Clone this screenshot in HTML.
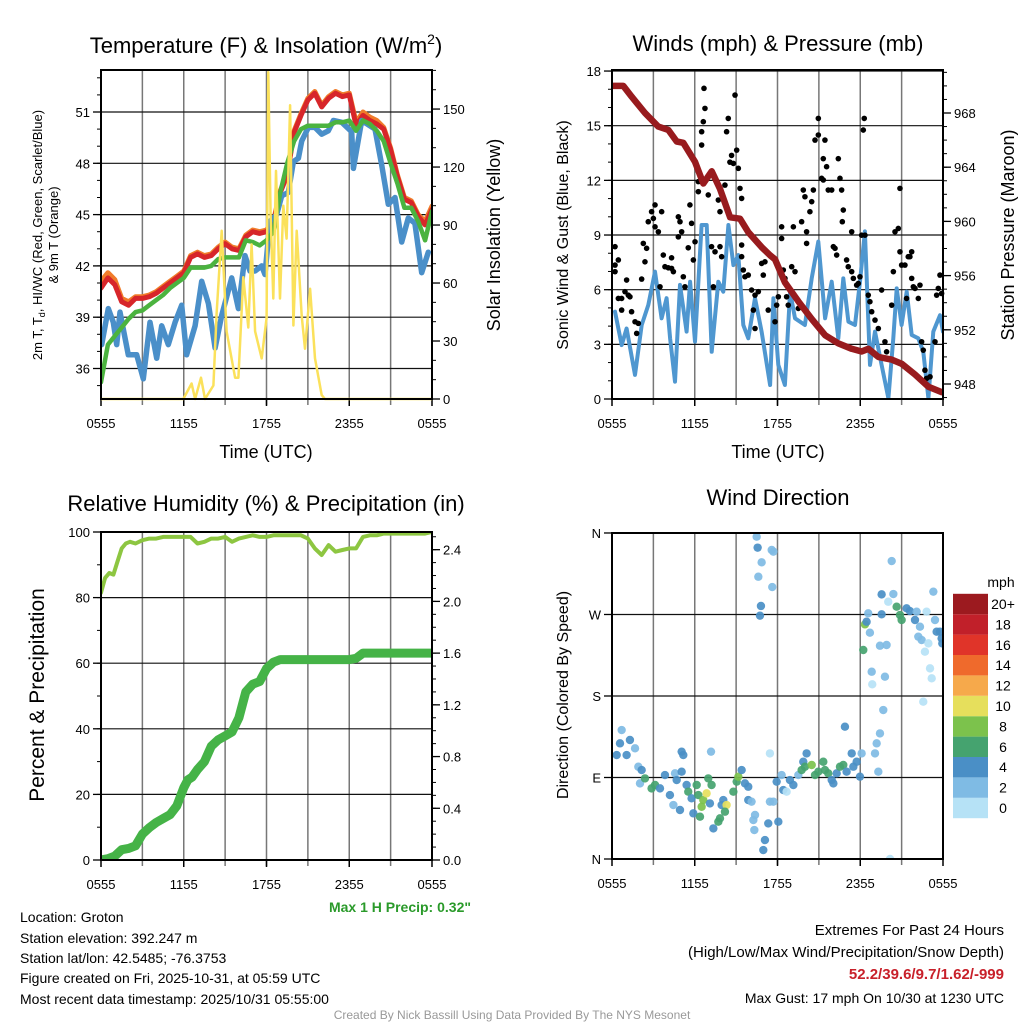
<!DOCTYPE html>
<html><head><meta charset="utf-8"><style>
html,body{margin:0;padding:0;background:#fff;}
svg{display:block;font-family:"Liberation Sans",Arial,sans-serif;}
</style></head><body>
<svg id="chart" width="1024" height="1024" viewBox="0 0 1024 1024" xmlns="http://www.w3.org/2000/svg">
<rect width="1024" height="1024" fill="#fff"/>
<g id="layer"></g>
<text x="266" y="53" font-size="22" text-anchor="middle">Temperature (F) &amp; Insolation (W/m<tspan font-size="14" dy="-9">2</tspan><tspan dy="9">)</tspan></text>
<text x="778" y="51" font-size="22" text-anchor="middle">Winds (mph) &amp; Pressure (mb)</text>
<text x="266" y="511" font-size="22" text-anchor="middle">Relative Humidity (%) &amp; Precipitation (in)</text>
<text x="778" y="505" font-size="22" text-anchor="middle">Wind Direction</text>
<text x="266" y="458" font-size="18" text-anchor="middle">Time (UTC)</text>
<text x="778" y="458" font-size="18" text-anchor="middle">Time (UTC)</text>
<text transform="translate(42,235) rotate(-90)" font-size="13" text-anchor="middle">2m T, T<tspan font-size="9" dy="3">d</tspan><tspan dy="-3">, HI/WC (Red, Green, Scarlet/Blue)</tspan></text>
<text transform="translate(58,235) rotate(-90)" font-size="13" text-anchor="middle">&amp; 9m T (Orange)</text>
<text transform="translate(500,235) rotate(-90)" font-size="18" text-anchor="middle">Solar Insolation (Yellow)</text>
<text transform="translate(568,235) rotate(-90)" font-size="16" text-anchor="middle">Sonic Wind &amp; Gust (Blue, Black)</text>
<text transform="translate(1014,235) rotate(-90)" font-size="18" text-anchor="middle">Station Pressure (Maroon)</text>
<text transform="translate(44,695) rotate(-90)" font-size="21" text-anchor="middle">Percent &amp; Precipitation</text>
<text transform="translate(568,695) rotate(-90)" font-size="16" text-anchor="middle">Direction (Colored By Speed)</text>
<text x="471" y="912" font-size="14" font-weight="bold" fill="#2a9a2a" text-anchor="end">Max 1 H Precip: 0.32"</text>
<g font-size="14">
<text x="20" y="922">Location: Groton</text>
<text x="20" y="943">Station elevation: 392.247 m</text>
<text x="20" y="963">Station lat/lon: 42.5485; -76.3753</text>
<text x="20" y="983">Figure created on Fri, 2025-10-31, at 05:59 UTC</text>
<text x="20" y="1004">Most recent data timestamp: 2025/10/31 05:55:00</text>
</g>
<g font-size="15" text-anchor="end">
<text x="1004" y="935">Extremes For Past 24 Hours</text>
<text x="1004" y="957">(High/Low/Max Wind/Precipitation/Snow Depth)</text>
<text x="1004" y="979" font-weight="bold" fill="#c8202a">52.2/39.6/9.7/1.62/-999</text>
<text x="1004" y="1003" font-size="14">Max Gust: 17 mph On 10/30 at 1230 UTC</text>
</g>
<text x="512" y="1019" font-size="12" fill="#999" text-anchor="middle">Created By Nick Bassill Using Data Provided By The NYS Mesonet</text>
<text x="1001" y="587" font-size="14" text-anchor="middle">mph</text>
</svg>
<script>
// ---- Temperature panel data (hours since 0555 UTC) ----
const tH = [0,0.5,1,1.5,2,2.5,3,3.5,4,4.5,5,5.5,6,6.5,7,7.5,8,8.5,9,9.5,10,10.5,11,11.5,12,12.5,13,13.5,14,14.5,15,15.5,16,16.5,17,17.5,18,18.5,19,19.5,20,20.5,21,21.5,22,22.5,23,23.5,24];
const tempRed = [40.7,41.3,40.9,39.9,39.7,40.1,40.1,40.2,40.4,40.7,41.0,41.3,41.6,42.5,42.7,42.5,42.6,43.0,43.3,43.0,42.9,43.7,44.0,43.9,44.0,44.5,46.3,47.3,49.8,50.8,51.7,52.1,51.3,51.8,52.1,51.9,52.0,50.2,50.8,50.5,50.3,50.0,48.8,47.2,45.9,45.7,44.9,44.4,45.3];
const tempOrange = [41.1,41.6,41.2,40.1,39.9,40.2,40.2,40.3,40.5,40.8,41.1,41.4,41.7,42.6,42.8,42.6,42.7,43.1,43.4,43.1,43.0,43.8,44.1,44.0,44.1,44.6,46.4,47.4,49.9,50.9,51.8,52.2,51.4,51.9,52.2,52.0,52.1,50.4,51.0,50.7,50.5,50.1,48.9,47.3,46.0,45.8,45.0,44.6,45.5];
const tempGreen = [35.2,37.4,37.9,38.4,38.9,39.3,39.4,39.7,40.0,40.3,40.7,41.0,41.3,41.9,41.9,41.9,42.0,42.4,42.5,42.5,42.5,43.5,43.4,43.2,43.5,44.0,46.3,48.0,49.3,50.0,50.2,50.2,50.2,50.2,50.4,50.4,50.5,49.9,50.5,50.3,49.9,49.3,48.0,46.8,45.4,45.4,44.6,43.5,45.2];
const dewH = [0.05,0.53,0.89,1.14,1.38,1.98,2.59,3.07,3.55,4.04,4.4,4.88,5.37,5.85,6.21,6.82,7.3,7.79,8.27,8.75,9.48,9.96,10.44,10.8,11.17,11.65,11.89,12.25,12.74,13.1,13.58,13.95,14.31,14.55,15.04,15.52,16.0,16.48,16.85,17.45,18.18,18.3,18.9,19.87,20.35,20.83,21.32,21.8,22.28,22.76,23.25,23.73];
const dewBlue = [37.4,39.5,38.7,37.4,39.3,36.8,36.8,35.4,38.7,36.6,38.5,37.4,38.7,39.7,36.8,38.5,41.1,39.8,37.2,39.1,41.3,39.5,42.6,41.7,41.7,42.0,41.5,44.6,45.0,46.1,46.3,48.1,48.3,49.3,50.1,50.1,49.7,49.9,50.5,50.4,49.85,47.7,50.5,50.0,47.9,45.6,46.0,43.4,44.8,44.5,41.6,42.8];
const solarH = [0,5.97,6.57,6.82,7.25,7.54,8.15,8.39,8.75,9.11,9.72,9.96,10.32,10.68,10.92,11.17,11.65,12.01,12.13,12.3,12.49,12.69,12.98,13.22,13.46,13.71,13.95,14.19,14.55,14.79,15.16,15.52,16.0,16.24,24];
const solarVal = [0,0,8,0,11,0,7,45,87,35,11,11,63,37,80,35,21,42,169,95,52,118,52,100,83,152,38,87,43,26,57,21,2,0,0];
const tempTicks = [36,39,42,45,48,51];
const solarTicks = [0,30,60,90,120,150];
const timeTickH = [0,6,12,18,24];
const timeTickLabels = ["0555","1155","1755","2355","0555"];
// ---- Wind panel data ----
const windH = [0.22,0.70,1.06,1.67,2.15,2.63,3.12,3.60,3.96,4.21,4.57,4.93,5.41,5.66,6.02,6.50,6.87,7.23,7.71,8.07,8.44,8.8,9.16,9.52,9.88,10.37,10.85,11.46,11.7,12.06,12.54,12.91,13.27,13.99,14.48,14.96,15.45,15.93,16.41,16.77,17.14,17.62,17.98,18.34,18.71,19.07,19.55,20.04,20.4,20.64,21.0,21.37,21.73,22.21,22.57,22.94,23.3,23.78,24.0];
const windSpd = [4.79,2.96,3.87,1.32,4.06,5.16,6.99,4.43,5.53,3.33,0.95,6.26,3.70,6.44,3.15,9.55,9.55,2.59,6.44,5.89,9.55,7.35,7.9,4.06,3.33,5.53,3.70,0.77,5.53,1.87,0.77,5.89,4.43,4.06,6.62,8.64,4.43,6.44,3.33,6.62,4.24,4.06,6.44,9.2,1.87,3.70,1.87,0.04,3.33,6.07,4.06,5.89,3.51,3.33,2.59,0.04,3.70,4.6,3.70];
const gustH = [0.22,0.22,0.46,0.22,0.46,0.70,1.06,0.94,1.18,1.30,0.70,1.42,1.67,1.91,1.79,2.15,2.39,2.51,2.27,2.63,2.87,3.12,3.0,3.12,3.36,3.6,3.48,3.72,3.84,4.08,4.32,4.32,4.45,4.81,4.93,4.81,5.05,5.17,5.29,5.53,5.65,5.77,6.02,5.9,6.26,6.26,6.5,6.5,6.62,6.74,6.67,6.98,7.22,7.47,7.35,7.71,7.83,7.83,7.95,8.19,8.31,8.43,8.55,8.67,8.8,8.92,9.04,9.16,9.28,9.4,9.4,9.4,9.52,9.64,9.88,10.12,10.37,10.25,10.37,10.61,10.85,11.09,10.97,11.33,11.82,11.94,12.06,12.3,12.3,12.42,12.54,12.66,12.78,13.03,13.15,13.27,13.51,13.75,13.87,13.99,14.11,14.11,14.35,14.48,14.6,14.72,14.96,14.96,15.2,15.32,15.32,15.44,15.56,15.68,15.93,16.05,16.17,16.29,16.41,16.53,16.65,16.77,16.7,17.01,17.13,17.38,17.38,17.5,17.74,17.86,17.98,18.1,18.34,18.29,18.22,18.58,18.7,18.83,19.07,19.31,19.55,19.79,19.91,20.28,20.4,20.52,20.76,20.88,20.88,21.0,21.24,21.36,21.48,21.6,21.73,21.73,21.85,21.97,22.21,22.33,22.45,22.57,22.69,22.81,23.06,23.42,23.54,23.66,23.78,23.9];
const gustV = [8.36,7.35,7.63,6.99,5.52,5.52,6.53,5.89,5.70,5.61,4.88,4.79,4.24,4.15,3.6,6.58,7.53,8.27,8.54,9.73,10.28,10.65,9.91,9.45,9.18,10.28,6.16,7.9,7.26,7.2,7.17,7.75,6.99,10.0,9.73,8.9,9.18,6.71,6.16,8.3,10.65,9.64,8.63,7.63,11.93,11.38,14.67,13.94,15.22,15.95,17.05,11.2,8.36,8.08,6.16,10.92,10.28,8.36,7.81,11.74,14.67,15.4,13.0,13.37,12.93,16.68,13.66,12.66,11.56,11.01,8.45,7.81,7.08,6.71,6.8,5.98,5.70,4.88,3.87,5.89,7.44,7.53,6.8,4.88,4.24,5.15,5.61,8.81,9.45,7.08,6.62,5.61,5.15,7.26,9.45,6.99,4.97,9.73,11.47,11.1,9.18,8.54,10.28,10.83,11.47,14.21,14.49,15.4,12.11,12.02,13.19,14.21,12.75,11.47,11.47,8.36,8.27,7.9,13.19,12.11,11.47,10.37,9.73,7.63,7.26,9.18,6.99,6.62,6.25,6.34,6.71,8.99,8.99,15.4,14.76,5.70,5.34,4.79,4.33,3.87,5.98,3.14,2.59,5.15,6.99,9.18,9.36,11.56,8.08,7.35,7.35,5.52,7.81,7.81,8.08,6.62,6.16,6.07,5.52,6.25,3.14,2.68,1.58,1.13,1.22,3.14,5.70,6.07,6.8,5.79];
const presH = [0.1,0.82,1.43,2.39,3.36,4.08,4.69,5.17,6.02,6.62,7.23,7.83,8.56,9.28,9.88,10.85,11.46,11.82,12.54,13.51,14.48,15.45,16.41,17.38,18.1,18.59,19.31,20.28,21.0,21.97,22.94,23.9];
const presVal = [970.0,970.0,969.2,968.0,967.0,966.75,965.9,965.8,964.4,962.8,963.7,962.4,960.3,960.2,959.2,958.1,957.5,957.2,955.5,954.1,952.8,951.6,951.0,950.6,950.4,950.6,950.0,949.8,949.5,948.7,947.8,947.4];
const windTicks = [0,3,6,9,12,15,18];
const presTicks = [948,952,956,960,964,968];
// ---- RH panel data ----
const rhH = [0,0.3,0.6,0.9,1.2,1.5,1.8,2.1,2.5,3,3.5,4,4.5,5,5.5,6,6.5,7,7.5,8,8.5,9,9.5,10,10.5,11,11.5,12,12.5,13,13.5,14,14.5,15,15.5,16,16.5,17,17.5,18,18.5,19,19.5,20,20.5,21,21.5,22,22.5,23,23.5,24];
const rhVal = [81.5,86,87.5,87,91,95,96.5,97,96.5,97.5,98,98,98.5,98.5,98.5,98.5,98.5,96.5,97,98,98,98.5,97,98,98.5,99,98.5,98.5,99,99,99,99,99,98,95,93,96,94,94.5,95,95,98.5,99,99,99.5,99.5,99.5,99.5,99.5,99.5,99.5,100];
const prH = [0,0.5,1,1.5,2,2.5,3,3.5,4,4.5,5,5.5,6,6.3,6.6,7,7.5,8,8.5,9,9.5,10,10.5,11,11.5,12,12.5,13,13.5,14,15,16,17,18,18.5,19,20,21,22,23,24];
const prVal = [0,0.01,0.03,0.08,0.09,0.11,0.2,0.25,0.29,0.32,0.35,0.42,0.56,0.62,0.64,0.7,0.76,0.88,0.93,0.96,0.99,1.1,1.3,1.36,1.38,1.48,1.53,1.55,1.55,1.55,1.55,1.55,1.55,1.55,1.56,1.6,1.6,1.6,1.6,1.6,1.6];
const rhTicks = [0,20,40,60,80,100];
const prTicks = [0.0,0.4,0.8,1.2,1.6,2.0,2.4];
// ---- Wind direction panel data ----
const dirH = [0.70,0.58,0.34,1.30,1.67,1.06,1.91,2.15,2.03,2.39,2.87,3.12,3.48,3.84,4.20,4.57,4.69,5.05,5.05,5.17,4.45,4.93,5.41,5.53,5.77,5.9,6.14,6.26,6.50,6.62,6.86,6.38,7.10,6.98,7.22,7.18,7.35,7.71,7.83,7.95,8.07,8.31,8.19,8.80,9.04,9.16,9.4,9.64,9.88,9.88,10.12,10.37,10.25,10.32,11.09,10.97,11.33,11.45,11.70,11.45,11.94,12.06,12.42,12.3,12.66,12.9,13.15,13.51,13.75,13.87,14.11,13.99,14.48,14.72,14.96,15.32,15.44,15.68,15.93,16.05,16.29,16.53,16.77,17.01,17.38,17.74,17.5,17.98,18.1,16.89,19.19,19.07,19.31,19.43,19.67,19.79,18.83,18.87,18.22,18.34,18.46,18.58,18.7,19.55,19.55,19.43,19.91,20.03,20.4,20.64,20.88,21.0,20.28,21.36,21.6,21.97,22.09,22.33,22.21,22.45,22.81,22.94,22.69,23.06,23.18,23.3,23.42,23.54,23.78,23.9,23.95,22.57,20.16,10.49,10.56,11.58,11.70,10.85,10.61,11.62,10.8,10.73];
const dirDeg = [142.4,127.7,114.8,131.4,122.2,114.8,101.9,98.2,83.5,89.0,78.0,81.7,78.0,92.7,70.6,94.6,87.2,96.4,118.5,114.8,59.6,54.1,81.7,74.3,67.0,50.4,81.7,70.6,57.7,65.1,72.5,46.7,61.4,89.0,81.7,118.5,33.8,41.2,44.9,59.6,65.1,59.6,52.2,74.3,85.4,90.9,98.2,83.5,79.8,65.1,63.3,48.6,43.0,32.0,20.9,9.9,39.3,63.3,63.3,116.6,85.4,41.2,76.1,92.7,74.3,87.2,81.7,92.7,98.2,107.4,116.6,101.9,103.8,92.7,96.4,107.4,98.2,94.6,87.2,83.5,94.6,101.9,103.8,96.4,116.6,107.4,101.9,90.9,116.6,146.1,127.7,116.6,96.4,138.7,164.5,201.3,206.8,192.9,230.8,259.1,262.0,271.3,249.9,270.2,292.2,235.5,236.3,284.1,292.6,278.6,269.4,263.9,329.0,276.8,273.8,263.9,273.1,256.5,245.5,241.8,273.1,238.1,228.9,210.5,199.5,295.2,263.9,251.0,251.0,243.6,238.1,173.7,0,355.9,343.8,341.2,339.4,327.6,311.7,300.3,279.4,268.7];
const dirSpd = [3,5,5,5,3,5,3,5,3,7,7,7,5,5,5,3,5,5,5,5,3,5,5,7,5,5,7,7,9,9,11,7,5,7,7,3,5,7,7,5,5,11,7,7,7,9,5,5,5,5,3,3,3,3,5,5,5,3,3,1,5,5,5,3,1,5,5,3,7,5,5,7,9,7,7,7,7,7,5,5,5,7,7,5,5,5,5,5,3,5,3,3,3,2,3,2,3,1,7,9,5,3,3,5,5,3,3,1,3,7,7,7,3,5,5,5,3,3,3,3,1,1,1,1,1,3,3,5,5,5,5,1,1,3,5,3,3,3,3,3,5,5];
const speedBins = ["0","2","4","6","8","10","12","14","16","18","20+"];
const speedColors = ["#b6e2f6","#7fbbe4","#4a8fc6","#45a36f","#7cc24c","#e6df5c","#f6a94b","#ef6a2c","#e03429","#c1202a","#9c1a1f"];

const NS = "http://www.w3.org/2000/svg";
const layer = document.getElementById("layer");
function el(tag, attrs, parent) {
  const e = document.createElementNS(NS, tag);
  for (const k in attrs) e.setAttribute(k, attrs[k]);
  (parent || layer).appendChild(e);
  return e;
}
function makePanel(x0, x1, y0, y1, name) {
  const g = el("g", {});
  
  
  const xT = h => x0 + h * (x1 - x0) / 24;
  return { g, x0, x1, y0, y1, xT };
}
function clipFor(p, id, extra) {
  const e = extra || 0;
  const cp = el("clipPath", { id: id });
  el("rect", { x: p.x0, y: p.y0, width: p.x1 - p.x0, height: p.y1 - p.y0 + e }, cp);
}
function vGrid(p) {
  for (let h = 3; h < 24; h += 3) {
    const gl = el("line", { x1: p.xT(h), x2: p.xT(h), y1: p.y0, y2: p.y1 + 6, stroke: "#777", "stroke-width": 1.5 }, p.g);
    
    
  }
  timeTickH.forEach((h, i) => {
    el("line", { x1: p.xT(h), x2: p.xT(h), y1: p.y1, y2: p.y1 + 7, stroke: "#000", "stroke-width": 1.5 }, p.g);
    const t = el("text", { x: p.xT(h), y: p.y1 + 29, "font-size": 13, "text-anchor": "middle" }, p.g);
    t.textContent = timeTickLabels[i];
    
    
  });
}
function hAxis(p, ticks, yf, side, grid, fmt, minorStep, minorFrom, minorTo) {
  const xa = side === "left" ? p.x0 : p.x1;
  const dir = side === "left" ? -1 : 1;
  if (minorStep) {
    for (let v = minorFrom; v <= minorTo + 1e-9; v += minorStep) {
      const y = yf(v);
      if (y < p.y0 - 0.5 || y > p.y1 + 0.5) continue;
      el("line", { x1: xa, x2: xa + dir * 4, y1: y, y2: y, stroke: "#000", "stroke-width": 1 }, p.g);
    }
  }
  ticks.forEach(v => {
    const y = yf(v);
    if (grid) {
      const gl = el("line", { x1: p.x0, x2: p.x1, y1: y, y2: y, stroke: "#111", "stroke-width": 1.2 }, p.g);
      
      
    }
    el("line", { x1: xa, x2: xa + dir * 8, y1: y, y2: y, stroke: "#000", "stroke-width": 1.3 }, p.g);
    const t = el("text", { x: xa + dir * 11, y: y + 5, "font-size": 13, "text-anchor": side === "left" ? "end" : "start" }, p.g);
    t.textContent = fmt ? fmt(v) : String(v);
    
    
  });
}
function frame(p) {
  const f = el("rect", { x: p.x0, y: p.y0, width: p.x1 - p.x0, height: p.y1 - p.y0, fill: "none", stroke: "#000", "stroke-width": 2 }, p.g);
  
  
}
function line(p, xs, ys, xf, yf, color, w, name, clip) {
  const d = xs.map((h, i) => (i ? "L" : "M") + xf(h).toFixed(1) + "," + yf(ys[i]).toFixed(1)).join("");
  const pa = el("path", { d: d, fill: "none", stroke: color, "stroke-width": w, "stroke-linejoin": "round", "stroke-linecap": "round", "clip-path": "url(#" + clip + ")" }, p.g);
  
  
}

// Panel 1: temperature
const p1 = makePanel(101, 432, 70, 399, "temperature-panel");
clipFor(p1, "c1", 3);
const yTemp = v => 112 - (v - 51) * 17.1;
const ySolar = v => 399 - v * 1.933;
vGrid(p1);
hAxis(p1, tempTicks, yTemp, "left", true, null, 1, 34, 53);
hAxis(p1, solarTicks, ySolar, "right", false, null, 10, 0, 170);
line(p1, tH, tempOrange, p1.xT, yTemp, "#f07c2a", 5, "temp-9m-line", "c1");
line(p1, tH, tempRed, p1.xT, yTemp, "#d7262a", 5, "temp-2m-line", "c1");
line(p1, dewH, dewBlue, p1.xT, yTemp, "#4a8fc9", 5.5, "dewpoint-line", "c1");
line(p1, tH, tempGreen, p1.xT, yTemp, "#4bb33f", 4.5, "heat-index-line", "c1");
line(p1, solarH, solarVal, p1.xT, ySolar, "#fbe15b", 2.5, "solar-line", "c1");
frame(p1);

// Panel 2: wind
const p2 = makePanel(612, 943, 70, 399, "wind-panel");
clipFor(p2, "c2");
const yWind = v => 399 - v * 18.22;
const yPres = v => 384 - (v - 948) * 13.55;
vGrid(p2);
hAxis(p2, windTicks, yWind, "left", true, null, 1, 0, 18);
hAxis(p2, presTicks, yPres, "right", false, null, 1, 947, 971);
line(p2, windH, windSpd, p2.xT, yWind, "#4f97d0", 4, "sonic-wind-line", "c2");
gustH.forEach((h, i) => {
  const c = el("circle", { cx: p2.xT(h), cy: yWind(gustV[i]), r: 2.8, fill: "#000" }, p2.g);
  
  
});
line(p2, presH, presVal, p2.xT, yPres, "#981b1e", 6.5, "pressure-line", "c2");
frame(p2);

// Panel 3: RH & precip
const p3 = makePanel(101, 432, 532, 860, "rh-panel");
clipFor(p3, "c3");
const yRH = v => 860 - v * 3.28;
const yPr = v => 860 - v * 129.3;
vGrid(p3);
hAxis(p3, rhTicks, yRH, "left", true, null, 10, 0, 100);
hAxis(p3, prTicks, yPr, "right", false, v => v.toFixed(1), 0.1, 0, 2.5);
line(p3, rhH, rhVal, p3.xT, yRH, "#8dc641", 4, "rh-line", "c3");
line(p3, prH, prVal, p3.xT, yPr, "#45b347", 9, "precip-line", "c3");
frame(p3);

// Panel 4: wind direction
const p4 = makePanel(612, 943, 533, 859, "direction-panel");
clipFor(p4, "c4");
const yDir = v => 859 - v * 0.9056;
vGrid(p4);
hAxis(p4, [0, 90, 180, 270, 360], yDir, "left", true, v => ["N","E","S","W","N"][v / 90], null);
dirH.forEach((h, i) => {
  const bin = Math.min(10, Math.floor(dirSpd[i] / 2));
  const c = el("circle", { cx: p4.xT(h), cy: yDir(dirDeg[i]), r: 4.2, fill: speedColors[bin], "fill-opacity": 0.92, "clip-path": "url(#c4)" }, p4.g);
  
  
});
frame(p4);

// colorbar
const cb = el("g", {});


speedBins.forEach((lab, i) => {
  const y = 808 - i * 20.4;
  const r = el("rect", { x: 953, y: y - 10.2, width: 35, height: 20.4, fill: speedColors[i] }, cb);
  
  
  const t = el("text", { x: 1003, y: y + 5, "font-size": 14, "text-anchor": "middle" }, cb);
  t.textContent = lab;
  
  
});
</script>
</body></html>
